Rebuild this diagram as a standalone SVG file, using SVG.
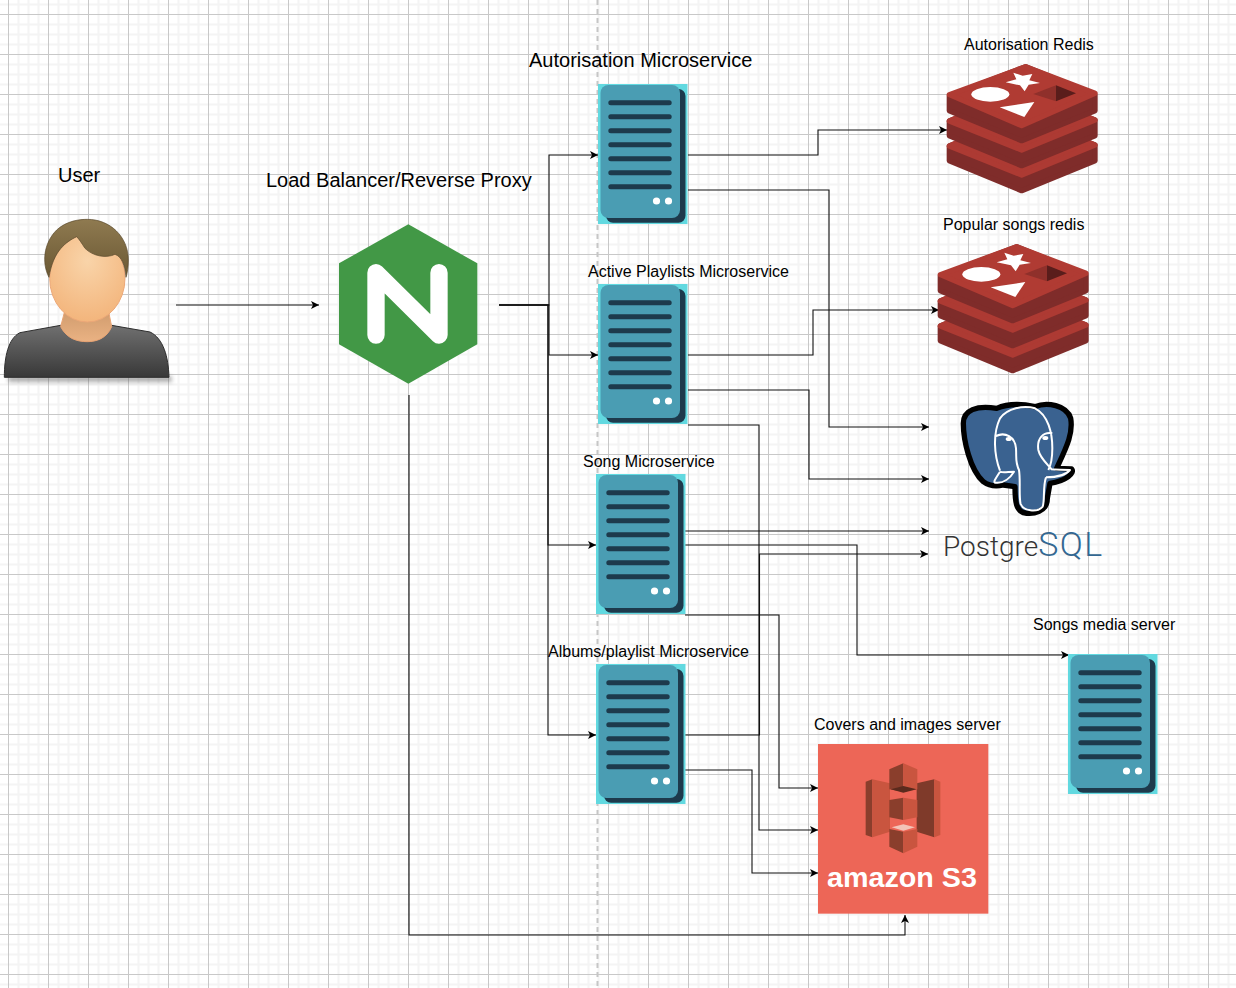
<svg xmlns="http://www.w3.org/2000/svg" xmlns:xlink="http://www.w3.org/1999/xlink" width="1236" height="988" viewBox="0 0 1236 988">
<style>
text{font-family:"Liberation Sans",Arial,sans-serif;fill:#000}
.l{font-size:20px}
.s{font-size:16px}
.c{fill:none;stroke:#111;stroke-width:1.1;marker-end:url(#a)}
</style>
<defs>
<pattern id="g" x="8" y="14" width="40" height="40" patternUnits="userSpaceOnUse">
<path d="M10.500 0V40M20.500 0V40M30.500 0V40M0 10.500H40M0 20.500H40M0 30.500H40" stroke="#f4f4f4" stroke-width="2" fill="none"/>
<path d="M.5 0V40M0 .5H40" stroke="#c8c8c8" stroke-width="1" fill="none"/>
</pattern>
<marker id="a" markerWidth="10" markerHeight="10" refX="8" refY="4" orient="auto" markerUnits="userSpaceOnUse">
<path d="M0 0L8 4L0 8L2 4Z" fill="#000"/>
</marker>
<symbol id="srv" width="90" height="140" viewBox="0 0 90 140">
<rect width="89.500" height="140" fill="#62d9e0"/>
<rect x="8" y="5" width="79.500" height="133.700" rx="7" fill="#1d3a4c"/>
<rect x="2.500" y="1" width="79.500" height="133" rx="8" fill="#4a9db3"/>
<path d="M12.800 18.700H71.200M12.800 32.700H71.200M12.800 46.700H71.200M12.800 60.700H71.200M12.800 74.700H71.200M12.800 88.700H71.200M12.800 102.700H71.200" stroke="#1d3a4c" stroke-width="5" stroke-linecap="round"/>
<circle cx="58.500" cy="117" r="3.600" fill="#fff"/>
<circle cx="70.500" cy="117" r="3.600" fill="#fff"/>
</symbol>
<g id="redisShape" transform="scale(.33333)">
<g stroke-linejoin="round" stroke-width="16">
<path d="M58 288L275 198L495 285V332L275 422L58 332Z" fill="#7f2c2a" stroke="#7f2c2a"/>
<path d="M58 288L275 198L495 285L275 375Z" fill="#ad3a33" stroke="#ad3a33"/>
<path d="M58 213L275 123L495 210V257L275 347L58 257Z" fill="#7f2c2a" stroke="#7f2c2a"/>
<path d="M58 213L275 123L495 210L275 300Z" fill="#ad3a33" stroke="#ad3a33"/>
<path d="M58 138L287 50L495 135V182L275 272L58 182Z" fill="#7f2c2a" stroke="#7f2c2a"/>
<path d="M58 134L287 50L495 130L275 227Z" fill="#b03b33" stroke="#b03b33"/>
</g>
<ellipse cx="181" cy="133" rx="57" ry="22" fill="#fff"/>
<path d="M250 68L278 77L307 72L298 91L330 99L296 104L284 124L270 106L227 97L259 88Z" fill="#fff"/>
<path d="M209 172L313 156L283 201Z" fill="#fff"/>
<path d="M310 132L378 106V154Z" fill="#8f302b"/>
<path d="M378 106L438 130L378 154Z" fill="#5a1d1b"/>
</g>
<linearGradient id="body" x1="0" y1="0" x2="0" y2="1"><stop offset="0" stop-color="#707070"/><stop offset="1" stop-color="#383838"/></linearGradient>
<linearGradient id="hair" x1="0" y1="0" x2="0" y2="1"><stop offset="0" stop-color="#8f7a50"/><stop offset="1" stop-color="#6a5833"/></linearGradient>
<radialGradient id="face" cx=".5" cy=".3" r=".7"><stop offset="0" stop-color="#f9d4a9"/><stop offset="1" stop-color="#f3b57c"/></radialGradient>
<linearGradient id="neck" x1="0" y1="0" x2="0" y2="1"><stop offset="0" stop-color="#cf9b6d"/><stop offset="1" stop-color="#eab283"/></linearGradient>
<filter id="b" x="-20%" y="-150%" width="140%" height="400%"><feGaussianBlur stdDeviation="6"/></filter>
</defs>
<rect width="1236" height="988" fill="#fff"/>
<rect width="1236" height="988" fill="url(#g)"/>
<path d="M597.500 0V988" stroke="#c6c6c6" stroke-width="2" stroke-dasharray="5 4" fill="none"/>

<g id="user" transform="scale(.33333) translate(0,450)">
<rect x="25" y="678" width="490" height="18" fill="#666" opacity=".55" filter="url(#b)"/>
<path d="M13 682C13 620 25 565 60 548L182 526L335 526L450 546C490 565 505 620 507 682Z" fill="url(#body)" stroke="#2d2d2d" stroke-width="3"/>
<path d="M195 480L325 480L335 530C320 565 290 575 262 575C230 575 200 565 182 530Z" fill="url(#neck)" stroke="#e9a473" stroke-width="3"/>
<ellipse cx="262" cy="385" rx="113" ry="131" fill="url(#face)" stroke="#eca877" stroke-width="3"/>
<path d="M147 382C125 340 130 280 170 240C200 212 240 208 262 208C330 208 385 260 385 330C385 350 382 370 378 382C375 345 365 320 345 313C320 325 280 320 255 295C245 280 238 268 230 260C200 275 160 300 147 382Z" fill="url(#hair)" stroke="#57472a" stroke-width="2"/>
</g>

<g id="nginx" transform="translate(320,210) scale(.33333)">
<path d="M265 43L472 160V403L265 521L57 403V160Z" fill="#429846"/>
<path d="M168 375V188L357 375V188" fill="none" stroke="#fff" stroke-width="52" stroke-linecap="round" stroke-linejoin="round"/>
</g>

<g id="connectors">
<path class="c" d="M176 305H319"/>
<path class="c" d="M499 305H549V155H598"/>
<path class="c" d="M499 305H549V355H598"/>
<path class="c" d="M499 305H548V545H596"/>
<path class="c" d="M499 305H548V735H596"/>
<path class="c" d="M409 395V935H905V915"/>
<path class="c" d="M688 155H818V130H947"/>
<path class="c" d="M688 190H829V427H929"/>
<path class="c" d="M688 355H813V310H939"/>
<path class="c" d="M688 390H809V479H929"/>
<path class="c" d="M688 425H759V830H818"/>
<path class="c" d="M685 531H929"/>
<path class="c" d="M685 545H857V655H1069"/>
<path class="c" d="M685 615H779V788H818"/>
<path class="c" d="M685 735H759.500V554H928"/>
<path class="c" d="M685 770H752V873H818"/>
</g>

<g id="auth-service"><use href="#srv" xlink:href="#srv" x="598" y="84"/></g>
<g id="playlist-service"><use href="#srv" xlink:href="#srv" x="598" y="284"/></g>
<g id="song-service"><use href="#srv" xlink:href="#srv" x="596" y="474"/></g>
<g id="albums-service"><use href="#srv" xlink:href="#srv" x="596" y="664"/></g>
<g id="media-server"><use href="#srv" xlink:href="#srv" x="1068" y="654"/></g>

<g id="auth-redis" transform="translate(930,50)"><use href="#redisShape" xlink:href="#redisShape"/></g>
<g id="popular-redis" transform="translate(921,230)"><use href="#redisShape" xlink:href="#redisShape"/></g>

<g id="postgres">
<g transform="translate(920,390) scale(.33333)">
<path d="M130 100C130 60 170 45 230 55C260 42 300 40 345 50C380 35 440 45 452 85C460 130 440 170 410 235L455 237C465 248 440 272 390 280L382 325C382 365 340 375 310 368C290 360 285 340 285 290L250 285C230 290 210 290 190 275C150 240 130 150 130 100Z" fill="#3a6290" stroke="#000" stroke-width="16" stroke-linejoin="round"/>
<path d="M240 242C222 195 218 130 240 85C262 55 310 45 345 55C385 75 397 130 397 175C397 200 393 225 385 240M228 138C255 125 285 140 288 175C290 205 285 215 297 240C302 270 296 320 302 342C310 362 350 370 368 350C375 330 368 290 378 262M397 130C370 125 350 145 355 180C360 205 385 225 395 238C410 240 430 238 450 240C435 258 405 262 378 262M240 245C250 250 265 245 282 245C270 265 250 280 228 278C215 280 232 258 240 245" fill="none" stroke="#fff" stroke-width="6" stroke-linejoin="round"/>
<ellipse cx="266" cy="147" rx="9" ry="6" fill="#fff"/>
<ellipse cx="376" cy="144" rx="9" ry="6" fill="#fff"/>
</g>
<text x="943" y="555.500" style="font-family:Roboto,'Liberation Sans',sans-serif;font-weight:300;fill:#333"><tspan font-size="28">Postgre</tspan><tspan font-size="34" letter-spacing="1.500" style="fill:#336791">SQL</tspan></text>
</g>

<g id="s3">
<g transform="translate(800,730) scale(.33333)">
<rect x="54" y="42" width="511" height="509" fill="#ed6657"/>
<path d="M197 155L217 148V322L197 315Z" fill="#8a3e2c"/>
<path d="M217 148L270 160V305L217 322Z" fill="#c9553f"/>
<path d="M350 160L403 148V322L350 305Z" fill="#7f3a2a"/>
<path d="M403 148L421 155V315L403 322Z" fill="#c9553f"/>
<path d="M268 118L310 100V185L268 178Z" fill="#8a3e2c"/>
<path d="M310 100L352 118V178L310 185Z" fill="#c9553f"/>
<path d="M272 178L310 168L350 178L310 188Z" fill="#5a2a1d"/>
<path d="M268 210L310 203V270L268 262Z" fill="#8a3e2c"/>
<path d="M310 203L352 210V262L310 270Z" fill="#c9553f"/>
<path d="M268 297L310 305V370L268 350Z" fill="#8a3e2c"/>
<path d="M310 305L352 297V350L310 370Z" fill="#c9553f"/>
<path d="M275 292L310 283L345 292L310 302Z" fill="#f3c4b8"/>
</g>
<text x="827" y="887" font-size="27" font-weight="bold" style="fill:#fff" textLength="150" lengthAdjust="spacingAndGlyphs">amazon S3</text>
</g>

<g id="labels">
<text class="l" x="58" y="182">User</text>
<text class="l" x="266" y="187">Load Balancer/Reverse Proxy</text>
<text class="l" x="529" y="67">Autorisation Microservice</text>
<text class="s" x="964" y="50">Autorisation Redis</text>
<text class="s" x="943" y="230">Popular songs redis</text>
<text class="s" x="588" y="277">Active Playlists Microservice</text>
<text class="s" x="583" y="467">Song Microservice</text>
<text class="s" x="548" y="657">Albums/playlist Microservice</text>
<text class="s" x="1033" y="630">Songs media server</text>
<text class="s" x="814" y="730">Covers and images server</text>
</g>
</svg>
